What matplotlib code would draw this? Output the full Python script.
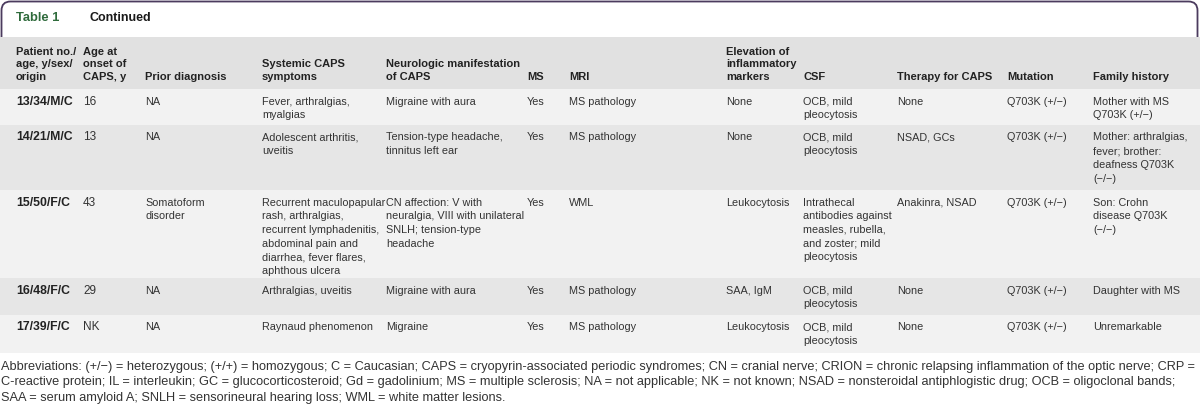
import matplotlib
matplotlib.use("Agg")
import matplotlib.pyplot as plt
from matplotlib.patches import Rectangle, FancyBboxPatch

plt.rcParams['font.family'] = ['Liberation Sans', 'DejaVu Sans']

# ---- table content ----
title_label = "Table 1"
title_text = "Continued"

headers = [
    "Patient no./\nage, y/sex/\norigin",
    "Age at\nonset of\nCAPS, y",
    "Prior diagnosis",
    "Systemic CAPS\nsymptoms",
    "Neurologic manifestation\nof CAPS",
    "MS",
    "MRI",
    "Elevation of\ninflammatory\nmarkers",
    "CSF",
    "Therapy for CAPS",
    "Mutation",
    "Family history",
]

patients = ["13/34/M/C", "14/21/M/C", "15/50/F/C", "16/48/F/C", "17/39/F/C"]
onset = ["16", "13", "43", "29", "NK"]
prior = ["NA", "NA", "Somatoform\ndisorder", "NA", "NA"]
systemic = [
    "Fever, arthralgias,\nmyalgias",
    "Adolescent arthritis,\nuveitis",
    "Recurrent maculopapular\nrash, arthralgias,\nrecurrent lymphadenitis,\nabdominal pain and\ndiarrhea, fever flares,\naphthous ulcera",
    "Arthralgias, uveitis",
    "Raynaud phenomenon",
]
neuro = [
    "Migraine with aura",
    "Tension-type headache,\ntinnitus left ear",
    "CN affection: V with\nneuralgia, VIII with unilateral\nSNLH; tension-type\nheadache",
    "Migraine with aura",
    "Migraine",
]
ms = ["Yes", "Yes", "Yes", "Yes", "Yes"]
mri = ["MS pathology", "MS pathology", "WML", "MS pathology", "MS pathology"]
markers = ["None", "None", "Leukocytosis", "SAA, IgM", "Leukocytosis"]
csf = [
    "OCB, mild\npleocytosis",
    "OCB, mild\npleocytosis",
    "Intrathecal\nantibodies against\nmeasles, rubella,\nand zoster; mild\npleocytosis",
    "OCB, mild\npleocytosis",
    "OCB, mild\npleocytosis",
]
therapy = ["None", "NSAD, GCs", "Anakinra, NSAD", "None", "None"]
mutation = ["Q703K (+/\u2212)"] * 5
family = [
    "Mother with MS\nQ703K (+/\u2212)",
    "Mother: arthralgias,\nfever; brother:\ndeafness Q703K\n(\u2212/\u2212)",
    "Son: Crohn\ndisease Q703K\n(\u2212/\u2212)",
    "Daughter with MS",
    "Unremarkable",
]

footnote = [
    "Abbreviations: (+/\u2212) = heterozygous; (+/+) = homozygous; C = Caucasian; CAPS = cryopyrin-associated periodic syndromes; "
    "CN = cranial nerve; CRION = chronic relapsing inflammation of the optic nerve; CRP =",
    "C-reactive protein; IL = interleukin; GC = glucocorticosteroid; Gd = gadolinium; MS = multiple sclerosis; NA = not applicable; "
    "NK = not known; NSAD = nonsteroidal antiphlogistic drug; OCB = oligoclonal bands;",
    "SAA = serum amyloid A; SNLH = sensorineural hearing loss; WML = white matter lesions.",
]

columns = [patients, onset, prior, systemic, neuro, ms, mri, markers, csf, therapy, mutation, family]

# ---- layout (pixels) ----
col_x = [16, 83, 145, 262, 386, 527, 569, 726, 803, 897, 1007, 1093]
header_top, header_bot = 37, 89
row_h = [36, 65, 88, 37, 38]
line_step = 13.7
row_colors = ["#f2f2f2", "#e6e6e6"]
text_col = "#333333"

fig = plt.figure(figsize=(12, 4.12), dpi=100)
ax = fig.add_axes([0, 0, 1, 1])
ax.set_xlim(0, 1200)
ax.set_ylim(412, 0)
ax.axis("off")

# title box (rounded, open at the bottom: header band covers it)
ax.add_patch(FancyBboxPatch((1.5, 1.5), 1196, 60, boxstyle="round,pad=0,rounding_size=9",
                            fc="white", ec="#4b3b5e", lw=1.3, zorder=1))
ax.text(16, 18, title_label, color="#2f6b3c", fontsize=9.3, fontweight="bold", va="center")
ax.text(90, 18, title_text, color="#1a1a1a", fontsize=9.0, fontweight="bold", va="center")

# header band
ax.add_patch(Rectangle((0, header_top), 1200, header_bot - header_top, fc="#e1e1e1", ec="none", zorder=2))
for x, h in zip(col_x, headers):
    lines = h.split("\n")
    for k, ln in enumerate(reversed(lines)):
        ax.text(x, 77 - k * 12.6, ln, fontsize=8, fontweight="bold",
                color="#222222", va="center", zorder=3)

# body rows
y = header_bot
for r in range(len(patients)):
    ax.add_patch(Rectangle((0, y), 1200, row_h[r], fc=row_colors[r % 2], ec="none", zorder=2))
    for c, (x, col) in enumerate(zip(col_x, columns)):
        bold = c == 0
        for k, ln in enumerate(col[r].split("\n")):
            ax.text(x, y + 12.5 + k * line_step, ln,
                    fontsize=8.8 if bold else (8.5 if c == 1 else 7.8),
                    fontweight="bold" if bold else "normal",
                    color="#222222" if bold else text_col, va="center", zorder=3)
    y += row_h[r]

# footnote
for k, ln in enumerate(footnote):
    ax.text(1, 367 + k * 15.3, ln, fontsize=9.15, color=text_col, va="center", zorder=3)

fig.savefig("out.png", dpi=100, facecolor="white")
